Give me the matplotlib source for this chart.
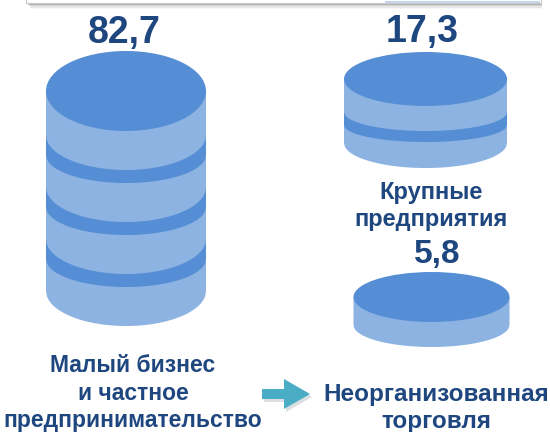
import numpy as np
import matplotlib
matplotlib.use("Agg")
import matplotlib.pyplot as plt
from matplotlib.patches import Polygon, Ellipse, Rectangle, FancyArrow

# ---- data ----
categories = ["Малый бизнес\nи частное\nпредпринимательство",
              "Крупные\nпредприятия",
              "Неорганизованная\nторговля"]
values = [82.7, 17.3, 5.8]
value_labels = ["82,7", "17,3", "5,8"]
disc_counts = [4, 2, 1]

# ---- style / layout (pixel space of the 550x432 canvas) ----
TOP_C = "#558ED5"
SIDE_C = "#8DB3E2"
TEXT_C = "#1F477F"
ARROW_C = "#4BACC6"
FONT = ["Liberation Sans", "DejaVu Sans"]

# cx, top_y, a, b_top, h0, pitch, band_t_edge, band_upper_depth, band_lower_depth, bottom_depth
geom = [
    (126.0, 91.0, 80.0, 40.0, 44.0, 52.0, 20.0, 35.0, 28.0, 35.0),
    (425.5, 79.0, 81.5, 27.0, 33.0, 31.0, 13.0, 19.0, 17.0, 25.0),
    (431.5, 297.0, 78.0, 25.0, 28.0, 0.0, 0.0, 0.0, 0.0, 22.0),
]
value_pos = [(124, 33, 27), (422, 32, 27), (437, 254, 24)]
label_pos = [(133, 393, 16.5), (431, 206, 17), (436, 408, 17.5)]

fig = plt.figure(figsize=(5.5, 4.32), dpi=100)
ax = fig.add_axes([0, 0, 1, 1])
ax.set_xlim(0, 550)
ax.set_ylim(432, 0)
ax.axis("off")


def cylinder(ax, n, cx, top_y, a, b_top, h0, pitch, band_t, up_d, lo_d, bottom_depth):
    xs = np.linspace(-1, 1, 200)
    s = np.sqrt(np.clip(1 - xs ** 2, 0, 1))
    bottom_edge = top_y + h0 + (n - 1) * pitch
    body = [(cx - a, top_y), (cx - a, bottom_edge)]
    body += list(zip(cx + a * xs, bottom_edge + bottom_depth * s))
    body += [(cx + a, bottom_edge), (cx + a, top_y)]
    ax.add_patch(Polygon(body, closed=True, facecolor=SIDE_C, edgecolor="none", zorder=2))
    for k in range(n - 1):
        ye = top_y + h0 + k * pitch
        upper = list(zip(cx + a * xs, ye + up_d * s))
        lower = list(zip(cx + a * xs[::-1], ye + band_t + lo_d * s[::-1]))
        ax.add_patch(Polygon(upper + lower, closed=True, facecolor=TOP_C,
                             edgecolor="none", zorder=3))
    ax.add_patch(Ellipse((cx, top_y), 2 * a, 2 * b_top, facecolor=TOP_C,
                         edgecolor="none", zorder=4))


for n, g in zip(disc_counts, geom):
    cylinder(ax, n, *g)

for lab, (x, y, fs) in zip(value_labels, value_pos):
    ax.text(x, y, lab, ha="center", va="center", fontsize=fs, fontweight="bold",
            color=TEXT_C, family=FONT, zorder=6)

for lab, (x, y, fs) in zip(categories, label_pos):
    ax.text(x, y, lab, ha="center", va="center", fontsize=fs, fontweight="bold",
            color=TEXT_C, family=FONT, linespacing=1.25, zorder=6)

# arrow with soft shadow
ax.add_patch(FancyArrow(264, 397, 48, 0, width=10, head_width=30, head_length=26,
                        length_includes_head=True, facecolor="#8a969c", edgecolor="none",
                        alpha=0.3, zorder=4))
ax.add_patch(FancyArrow(262, 394, 48, 0, width=10, head_width=30, head_length=26,
                        length_includes_head=True, facecolor=ARROW_C, edgecolor="none",
                        zorder=5))

# top frame with shadow
for i, al in enumerate([0.35, 0.22, 0.12, 0.06]):
    ax.add_patch(Rectangle((28 + i, -10), 514 - i, 13 + 1.5 * (i + 1), facecolor="#808080",
                           edgecolor="none", alpha=al, zorder=1))
ax.add_patch(Rectangle((26, -10), 515, 13, facecolor="white", edgecolor="#c8c8c8",
                       linewidth=0.8, zorder=1.5))
ax.add_patch(Rectangle((385, 1), 155, 2, facecolor="#c5d5ea", edgecolor="none", zorder=1.6))

fig.savefig("out.png", dpi=100)
